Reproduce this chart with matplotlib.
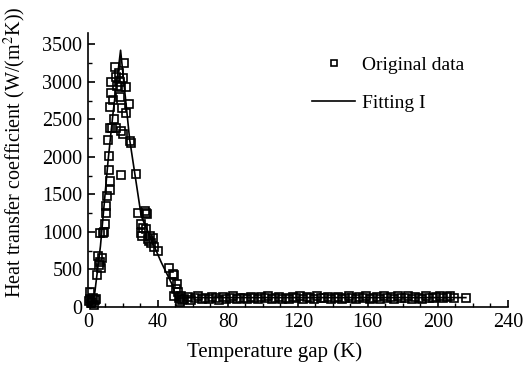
import numpy as np
import matplotlib
matplotlib.use("Agg")
import matplotlib.pyplot as plt
from matplotlib.ticker import MultipleLocator

plt.rcParams['font.family'] = ['Liberation Serif', 'DejaVu Serif']
plt.rcParams['mathtext.fontset'] = 'stix'

# 原始数据 (温差 K, 换热系数 W/(m2K))
orig_T = [0.5, 1.0, 1.5, 2.0, 2.5, 3.0, 3.5, 4.0, 4.9, 5.5, 5.9, 6.3, 6.8, 7.2, 7.6, 8.0, 8.7,
          9.2, 9.8, 10.2, 10.6, 11.0, 11.6, 12.1, 12.1, 12.5, 12.5, 12.9, 12.9, 13.4, 13.5, 14.0,
          14.4, 14.8, 15.4, 16.0, 16.3, 16.8, 17.8, 18.2, 18.5, 19.2, 19.2, 19.2, 19.6, 20.1,
          20.1, 20.7, 21.6, 22.0, 23.4, 23.9, 24.6, 27.3, 28.6, 30.5, 30.5, 31.0, 31.6, 32.4,
          33.0, 33.3, 33.8, 34.3, 34.8, 35.5, 36.2, 37.2, 38.0, 40.0, 46.6, 47.6, 48.5, 49.0,
          49.5, 50.4, 51.0, 51.4, 51.9, 52.5, 53.0, 53.6]
orig_H = [80, 200, 110, 50, 60, 120, 20, 90, 106, 420, 680, 560, 990, 600, 520, 650, 990,
          1000, 1100, 1343, 1250, 1480, 2228, 1830, 2005, 1675, 1565, 2383, 2670, 2850, 3000, 2383,
          2759, 2500, 3200, 2383, 3070, 2950, 3113, 2802, 3000, 2935, 2338, 1764, 2650, 3046,
          2300, 3245, 2935, 2582, 2700, 2205, 2190, 1777, 1256, 1100, 990, 950, 1050, 1277,
          1250, 1034, 1240, 902, 880, 950, 858, 924, 800, 747, 526, 327, 437, 420,
          150, 238, 300, 194, 120, 63, 150, 90]

tail_T = [55, 57, 59, 61, 63, 65, 67, 69, 71, 73, 75, 77, 79, 81, 83, 85, 87, 89, 91, 93,
          95, 97, 99, 101, 103, 105, 107, 109, 111, 113, 115, 117, 119, 121, 123, 125, 127, 129,
          131, 133, 135, 137, 139, 141, 143, 145, 147, 149, 151, 153, 155, 157, 159, 161, 163,
          165, 167, 169, 171, 173, 175, 177, 179, 181, 183, 185, 187, 189, 191, 193, 195, 197,
          199, 201, 203, 205, 207, 209, 216]
tail_H = [110, 130, 95, 120, 140, 105, 125, 100, 135, 115, 95, 130, 110, 120, 140, 100, 125, 115,
          105, 135, 120, 100, 130, 115, 140, 105, 120, 130, 110, 125, 100, 135, 120, 145, 110, 130,
          120, 105, 140, 125, 115, 130, 100, 120, 135, 110, 125, 140, 115, 105, 130, 120, 145, 110,
          125, 135, 100, 150, 120, 130, 110, 145, 125, 115, 140, 105, 130, 120, 110, 140, 125, 115,
          135, 150, 120, 130, 140, 125, 125]

# 拟合曲线
fit_T = [1.1, 2.0, 4.0, 7.2, 11.6, 14.4, 18.7, 23.9, 30.5, 36.2, 41.9, 48.5, 50.5, 53.0, 60,
         80, 100, 120, 140, 160, 180, 200, 216]
fit_H = [40, 20, 200, 813, 1963, 2586, 3420, 2228, 1211, 902, 597, 283, 106, 120, 125,
         125, 125, 125, 125, 125, 125, 125, 125]

fig = plt.figure(figsize=(5.23, 3.67), dpi=100)
ax = fig.add_axes([0.168, 0.1635, 0.803, 0.7466])

ax.plot(orig_T + tail_T, orig_H + tail_H, "s", mfc="none", mec="black", mew=1.2,
        markersize=6, label="Original data", zorder=3, clip_on=False)
ax.plot(fit_T, fit_H, "k-", linewidth=1.2, label="Fitting I")

ax.set_xlim(0, 240)
ax.set_ylim(0, 3650)
ax.set_xticks(np.arange(0, 241, 40))
ax.set_yticks(np.arange(0, 3501, 500))
ax.xaxis.set_minor_locator(MultipleLocator(10))
ax.yaxis.set_minor_locator(MultipleLocator(250))
ax.tick_params(which="major", direction="in", length=5, width=1.2, labelsize=14.5, pad=4)
ax.tick_params(which="minor", direction="in", length=3, width=1.0)
ax.spines["top"].set_visible(False)
ax.spines["right"].set_visible(False)
ax.spines["left"].set_linewidth(1.2)
ax.spines["bottom"].set_linewidth(1.2)

ax.set_xlabel("Temperature gap (K)", fontsize=15)
ax.xaxis.set_label_coords(0.444, -0.13)
ax.set_ylabel(r"Heat transfer coefficient (W/(m$^2$K))", fontsize=14.5)
ax.yaxis.set_label_coords(-0.143, 0.566)

leg = ax.legend(loc="upper left", bbox_to_anchor=(0.493, 0.979), frameon=False, fontsize=14,
                handlelength=2.2, labelspacing=1.05, markerscale=0.8, handletextpad=0.35)

fig.savefig("out.png", dpi=100)
